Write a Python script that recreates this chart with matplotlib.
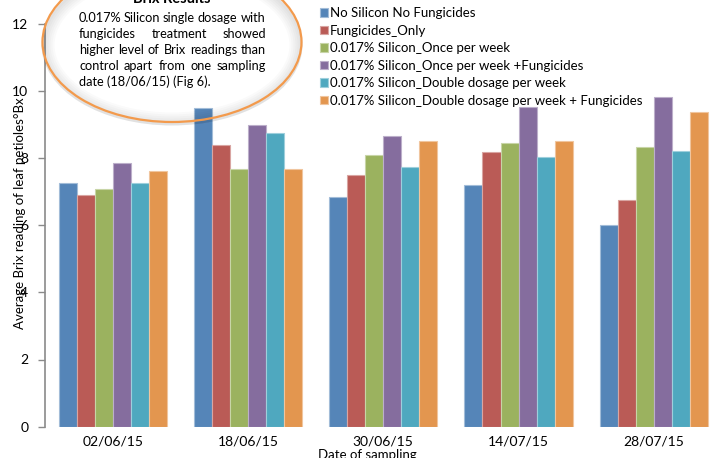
import numpy as np
import matplotlib.pyplot as plt
from matplotlib.patches import Ellipse
from matplotlib.colors import to_rgb

plt.rcParams['font.family'] = ['Lato', 'DejaVu Sans']

dates = ['02/06/15', '18/06/15', '30/06/15', '14/07/15', '28/07/15']
treatments = ['No Silicon No Fungicides',
              'Fungicides_Only',
              '0.017% Silicon_Once per week',
              '0.017% Silicon_Once per week +Fungicides',
              '0.017% Silicon_Double dosage per week',
              '0.017% Silicon_Double dosage per week + Fungicides']

no_si = [7.26, 9.49, 6.83, 7.19, 5.99]
fung_only = [6.90, 8.38, 7.50, 8.18, 6.76]
si_once = [7.06, 7.68, 8.10, 8.44, 8.31]
si_once_fung = [7.84, 8.98, 8.64, 9.52, 9.82]
si_double = [7.24, 8.75, 7.73, 8.02, 8.21]
si_double_fung = [7.61, 7.66, 8.51, 8.49, 9.37]
series = [no_si, fung_only, si_once, si_once_fung, si_double, si_double_fung]

colors = ['#5585b8', '#ba5b56', '#9bb25f', '#856d9e', '#4fa8bf', '#e3964f']

note_lines = ['0.017% Silicon single dosage  with',
              'fungicides treatment showed',
              'higher level of Brix readings than',
              'control apart from one sampling',
              'date (18/06/15) (Fig 6).']

W, H = 715, 458
fig = plt.figure(figsize=(W / 100, H / 100), dpi=100)

# main chart, runs slightly past the right edge
ax = fig.add_axes([45 / W, (H - 426.7) / H, 676.5 / W, 403.2 / H])
x = np.arange(len(dates))
bw = 0.8 / 6
for i, (vals, col, lab) in enumerate(zip(series, colors, treatments)):
    edge = tuple(0.55 * c + 0.45 for c in to_rgb(col))
    ax.bar(x - 0.4 + bw * (i + 0.5), vals, bw, color=col, edgecolor=edge,
           linewidth=0.8, label=lab)

ax.set_xlim(-0.5, 4.5)
ax.set_ylim(0, 12)
ax.set_yticks(range(0, 13, 2))
ax.set_xticks(x)
ax.set_xticklabels(dates)
ax.tick_params(axis='x', length=0, pad=6, labelsize=10)
ax.tick_params(axis='y', length=5, width=1, color='#8a8a8a', pad=7, labelsize=10)
for s in ['top', 'right', 'bottom']:
    ax.spines[s].set_visible(False)
ax.spines['left'].set_color('#8a8a8a')
ax.spines['left'].set_linewidth(1.2)

ax.legend(loc='upper left', bbox_to_anchor=(320 / W, 1 - 7 / H),
          bbox_transform=fig.transFigure, frameon=False, fontsize=9.5,
          handlelength=0.6, handleheight=0.6, handletextpad=0.15,
          labelspacing=0.42, borderpad=0, borderaxespad=0)

fig.text(20 / W, 1 - 213 / H, 'Average Brix reading of leaf petioles°Bx',
         rotation=90, ha='center', va='center', fontsize=9.5)
fig.text(367 / W, 1 - 455 / H, 'Date of sampling', ha='center', va='center',
         fontsize=9.5)

# overlay in pixel units for the callout
ov = fig.add_axes([0, 0, 1, 1], zorder=5)
ov.set_xlim(0, W)
ov.set_ylim(H, 0)
ov.axis('off')
ov.patch.set_alpha(0)

for k in range(6):
    ov.add_patch(Ellipse((172, 45), 258 - 2 * k, 158 - 2 * k, fill=False,
                         edgecolor='#000000', linewidth=2 + 1.5 * k, alpha=0.02))
ov.add_patch(Ellipse((172, 42), 259, 160, fill=False, edgecolor='#f39a4c',
                     linewidth=1.6))

ov.text(172, 6, 'Brix Results', ha='center', va='bottom', fontsize=10.5,
        fontweight='bold')

fig.canvas.draw()
rend = fig.canvas.get_renderer()
x0, x1 = 79, 266
fs = 9.2
for j, line in enumerate(note_lines):
    y = 17.5 + 16 * j
    if j == len(note_lines) - 1:
        ov.text(x0, y, line, ha='left', va='center', fontsize=fs)
        continue
    # justify: spread the words across the full line width
    words = line.split(' ')
    txts = [ov.text(0, y, w, ha='left', va='center', fontsize=fs) for w in words]
    widths = [t.get_window_extent(rend).width if w else 0 for t, w in zip(txts, words)]
    gap = (x1 - x0 - sum(widths)) / (len(words) - 1)
    pos = x0
    for t, wd in zip(txts, widths):
        t.set_x(pos)
        pos += wd + gap

fig.savefig('out.png', dpi=100)
